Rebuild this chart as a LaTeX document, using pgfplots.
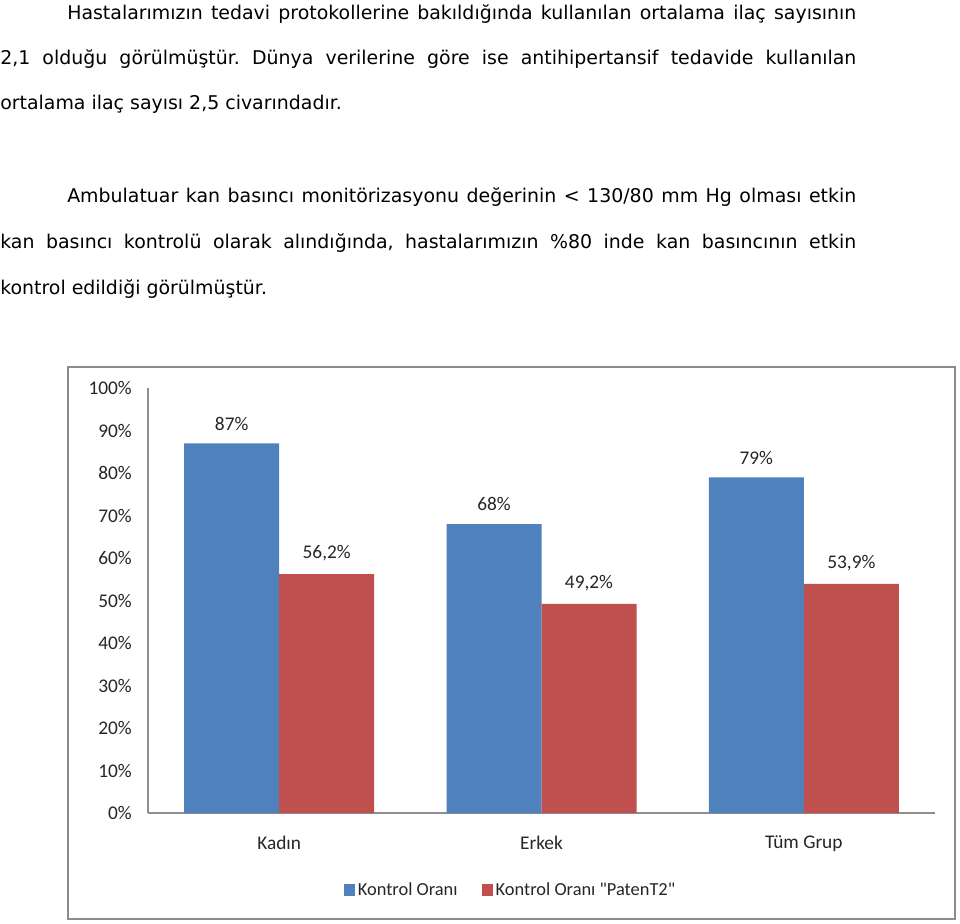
\documentclass[border=0pt]{standalone}
\usepackage{fontspec}
\setmainfont{DejaVu Sans}
\newfontfamily\calibri{Carlito}
\usepackage{pgfplots}
\pgfplotsset{compat=1.18}
\definecolor{xlblue}{HTML}{4F81BD}
\definecolor{xlred}{HTML}{C0504D}
\definecolor{framegray}{HTML}{8C8C8C}
\definecolor{axisgray}{HTML}{8E8E8E}
\newcommand\bodyfont{\fontsize{14.2pt}{17pt}\selectfont}
\newcommand\chartfont{\calibri\fontsize{14.5pt}{17pt}\selectfont}
\newcommand\legfont{\calibri\fontsize{13.8pt}{16pt}\selectfont}
\pgfplotsset{sqlegend/.style={legend image code/.code={\fill[##1,draw=none] (0pt,-4.3pt) rectangle (8.6pt,4.3pt);}}}
\frenchspacing
\begin{document}
\begin{tikzpicture}
\begin{scope}[x=0.75pt,y=-0.75pt]
\path[fill=white] (0,0) rectangle (960,924);
\node[anchor=base west, inner sep=0pt, font=\bodyfont] at (67,19.5) {\makebox[591.75pt][s]{Hastalarımızın tedavi protokollerine bakıldığında kullanılan ortalama ilaç sayısının}};
\node[anchor=base west, inner sep=0pt, font=\bodyfont] at (0,64.5) {\makebox[642pt][s]{2,1 olduğu görülmüştür. Dünya verilerine göre ise antihipertansif tedavide kullanılan}};
\node[anchor=base west, inner sep=0pt, font=\bodyfont] at (0,109.5) {ortalama ilaç sayısı 2,5 civarındadır.};
\node[anchor=base west, inner sep=0pt, font=\bodyfont] at (67,202) {\makebox[591.75pt][s]{Ambulatuar kan basıncı monitörizasyonu değerinin < 130/80 mm Hg olması etkin}};
\node[anchor=base west, inner sep=0pt, font=\bodyfont] at (0,248) {\makebox[642pt][s]{kan basıncı kontrolü olarak alındığında, hastalarımızın \%80 inde kan basıncının etkin}};
\node[anchor=base west, inner sep=0pt, font=\bodyfont] at (0,294) {kontrol edildiği görülmüştür.};
\draw[framegray, line width=1.5pt] (68,367) rectangle (955,919);
\end{scope}
\begin{axis}[
  at={(111pt,-609.75pt)}, anchor=south west,
  scale only axis, width=590.25pt, height=318.75pt,
  ybar=0pt, bar width=71.25pt,
  xmin=-0.5, xmax=2.5, ymin=0, ymax=100,
  axis x line*=bottom, axis y line*=left,
  axis line style={-, draw=axisgray, line width=0.8pt},
  xtick={0,1,2}, xticklabels={Kadın,Erkek,Tüm Grup},
  ytick={0,10,...,100},
  yticklabels={0\%,10\%,20\%,30\%,40\%,50\%,60\%,70\%,80\%,90\%,100\%},
  major tick length=0pt,
  tick label style={font=\chartfont, inner sep=0pt, text=black!85},
  xticklabel shift=17pt, yticklabel shift=12pt,
  nodes near coords, point meta=explicit symbolic,
  every node near coord/.append style={font=\chartfont, inner sep=0pt, anchor=south, yshift=9.5pt, text=black!85},
  clip=false,
  legend style={at={(0.461,-0.181)}, anchor=center, draw=none, fill=none,
    legend columns=2, font=\legfont, text=black!85,
    /tikz/every even column/.append style={column sep=16pt}},
]
\addplot[fill=xlblue, draw=none, sqlegend] coordinates {(0,87) [87\%] (1,68) [68\%] (2,79) [79\%]};
\addplot[fill=xlred, draw=none, sqlegend] coordinates {(0,56.2) [56,2\%] (1,49.2) [49,2\%] (2,53.9) [53,9\%]};
\legend{Kontrol Oranı, Kontrol Oranı "PatenT2"}
\end{axis}
\end{tikzpicture}
\end{document}
